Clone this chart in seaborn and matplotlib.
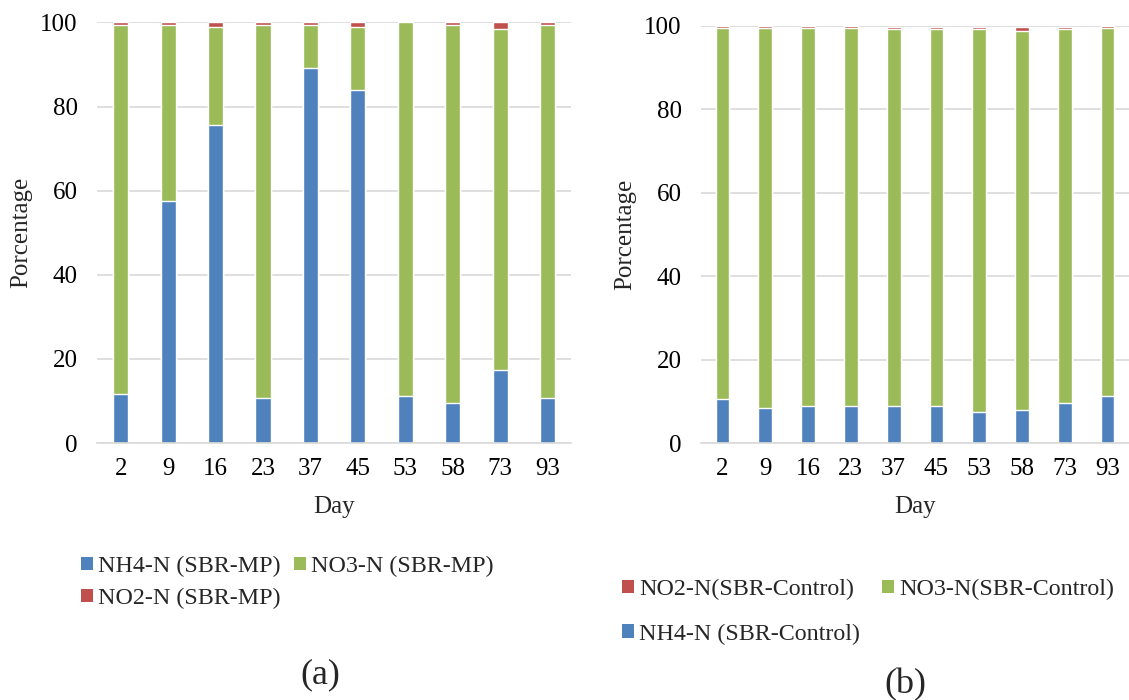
import numpy as np
import matplotlib
matplotlib.use("Agg")
import matplotlib.pyplot as plt
from matplotlib.patches import Patch
import seaborn as sns

days = ["2", "9", "16", "23", "37", "45", "53", "58", "73", "93"]

# (a) SBR-MP
mp_nh4 = [11.6, 57.5, 75.7, 10.8, 89.2, 83.9, 11.2, 9.6, 17.4, 10.8]
mp_no3 = [87.9, 42.0, 23.3, 88.7, 10.3, 15.1, 88.8, 89.9, 81.1, 88.7]
mp_no2 = [0.5, 0.5, 1.0, 0.5, 0.5, 1.0, 0.0, 0.5, 1.5, 0.5]

# (b) SBR-Control
ctl_nh4 = [10.6, 8.3, 9.0, 9.0, 9.0, 9.0, 7.4, 7.9, 9.6, 11.2]
ctl_no3 = [88.9, 91.2, 90.5, 90.5, 90.2, 90.2, 91.8, 90.8, 89.6, 88.3]
ctl_no2 = [0.5, 0.5, 0.5, 0.5, 0.5, 0.5, 0.5, 1.0, 0.5, 0.5]

BLUE = "#4F81BD"
GREEN = "#9BBB59"
RED = "#C0504D"
GRID = "#D9D9D9"
FS = 18
LFS = 17.3

sns.set_theme(style="white")
plt.rcParams["font.family"] = ["Liberation Serif", "DejaVu Serif"]

fig = plt.figure(figsize=(11.29, 7.0), dpi=100)
ax1 = fig.add_axes([0.086, 0.367, 0.42, 0.601])
ax2 = fig.add_axes([0.621, 0.367, 0.379, 0.596])


def stacked(ax, nh4, no3, no2):
    nh4 = np.array(nh4)
    no3 = np.array(no3)
    no2 = np.array(no2)
    # draw cumulative totals, largest first, so the layers look stacked
    sns.barplot(x=days, y=nh4 + no3 + no2, color=RED, saturation=1, width=0.32, ax=ax)
    sns.barplot(x=days, y=nh4 + no3, color=GREEN, saturation=1, width=0.32, ax=ax)
    sns.barplot(x=days, y=nh4, color=BLUE, saturation=1, width=0.32, ax=ax)
    ax.set_xlim(-0.5, 9.5)
    ax.set_ylim(0, 100)
    ax.set_yticks(range(0, 101, 20))
    ax.yaxis.grid(True, color=GRID, linewidth=1.2)
    ax.set_axisbelow(True)
    for s in ["left", "right", "top"]:
        ax.spines[s].set_visible(False)
    ax.spines["bottom"].set_color(GRID)
    ax.spines["bottom"].set_linewidth(1.2)
    ax.tick_params(axis="both", length=0, labelsize=FS, colors="black")
    ax.tick_params(axis="y", pad=14)
    ax.tick_params(axis="x", pad=11)
    ax.set_xlabel("Day", fontsize=FS, labelpad=11)
    ax.set_ylabel("Porcentage", fontsize=FS, labelpad=6)


stacked(ax1, mp_nh4, mp_no3, mp_no2)
stacked(ax2, ctl_nh4, ctl_no3, ctl_no2)

h_kw = dict(edgecolor="none")
leg1 = [Patch(facecolor=BLUE, label="NH4-N (SBR-MP)", **h_kw),
        Patch(facecolor=RED, label="NO2-N (SBR-MP)", **h_kw),
        Patch(facecolor=GREEN, label="NO3-N (SBR-MP)", **h_kw)]
fig.legend(handles=leg1, ncol=2, loc="upper left", bbox_to_anchor=(81 / 1129, 1 - 556 / 700),
           frameon=False, fontsize=LFS, handlelength=0.5, handleheight=0.5,
           handletextpad=0.22, columnspacing=0.55, labelspacing=0.45,
           borderpad=0, borderaxespad=0)

leg2 = [Patch(facecolor=RED, label="NO2-N(SBR-Control)", **h_kw),
        Patch(facecolor=BLUE, label="NH4-N (SBR-Control)", **h_kw),
        Patch(facecolor=GREEN, label="NO3-N(SBR-Control)", **h_kw)]
fig.legend(handles=leg2, ncol=2, loc="upper left", bbox_to_anchor=(622 / 1129, 1 - 579 / 700),
           frameon=False, fontsize=LFS, handlelength=0.5, handleheight=0.5,
           handletextpad=0.22, columnspacing=0.9, labelspacing=0.98,
           borderpad=0, borderaxespad=0)

fig.text(320 / 1129, 1 - 675 / 700, "(a)", fontsize=26, ha="center", va="center")
fig.text(905 / 1129, 1 - 685 / 700, "(b)", fontsize=26, ha="center", va="center")

fig.savefig("out.png", dpi=100)
